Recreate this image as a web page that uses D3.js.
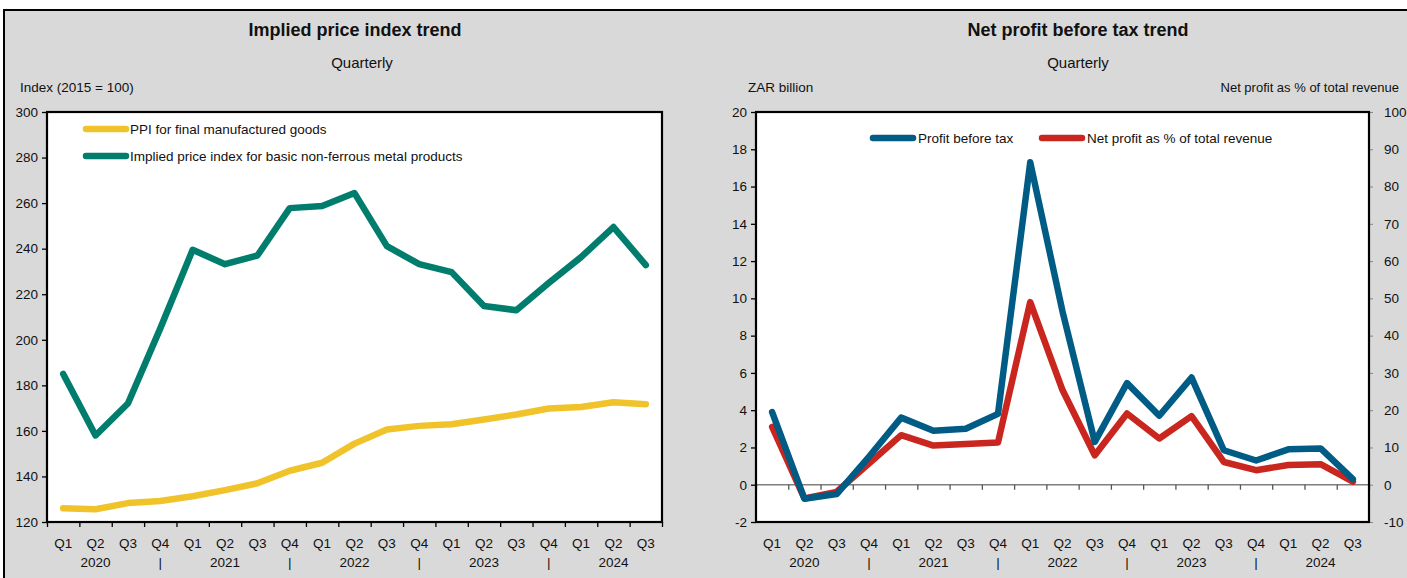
<!DOCTYPE html>
<html>
<head>
<meta charset="utf-8">
<script src="https://cdn.jsdelivr.net/npm/d3@7"></script>
<style>
  body { margin: 0; background: #fff; }
  svg text { font-family: "Liberation Sans Narrow", "Arial Narrow", "Liberation Sans", sans-serif; fill: #111; }
</style>
</head>
<body>
<svg id="chart" width="1407" height="578"></svg>
<script>
// Category labels (two lines: quarter, then year / separator)
const quarters = ["Q1","Q2","Q3","Q4","Q1","Q2","Q3","Q4","Q1","Q2","Q3","Q4","Q1","Q2","Q3","Q4","Q1","Q2","Q3"];
const yearRow  = ["","2020","","|","","2021","","|","","2022","","|","","2023","","|","","2024",""];

// Left chart series (Index, 2015 = 100)
const ppiFinal = [126,125.6,128.3,129.2,131.3,134,137,142.5,146,154.4,160.6,162.2,162.9,165,167.2,169.8,170.5,172.6,171.7];
const impliedIndex = [185,158,172,205,239.5,233.2,237,257.8,258.7,264.4,241.1,233.2,229.7,214.8,213,224.9,236.3,249.5,232.8];
const leftTicks = [120,140,160,180,200,220,240,260,280,300];

// Right chart series
const profitBeforeTax = [3.9,-0.75,-0.5,1.5,3.6,2.9,3.0,3.8,17.3,9.3,2.3,5.45,3.7,5.75,1.85,1.3,1.9,1.95,0.3];
const netProfitPct = [15.5,-3.7,-1.9,5.7,13.3,10.5,10.9,11.3,49,25.4,7.9,19.1,12.4,18.4,6.1,3.9,5.3,5.5,0.8];
const rightTicksL = [-2,0,2,4,6,8,10,12,14,16,18,20];
const rightTicksR = [-10,0,10,20,30,40,50,60,70,80,90,100];

const FS = "13.5px";
const svg = d3.select("#chart");

// grey panel
svg.append("rect")
    .attr("x", 4).attr("y", 10)
    .attr("width", 1410).attr("height", 580)
    .attr("fill", "#d9d9d9")
    .attr("stroke", "#000").attr("stroke-width", 2);

// shared x layout helper
function drawXAxis(g, x0, x1, yLine, yText, lineColor) {
    let n = quarters.length;
    let band = d3.scaleBand().domain(d3.range(n)).range([x0, x1]);
    let edge = d3.scaleLinear().domain([0, n]).range([x0, x1]);

    let ax = g.append("g")
        .attr("transform", "translate(0," + yLine + ")")
        .call(d3.axisBottom(edge).tickValues(d3.range(n + 1)).tickSize(5).tickFormat(""));
    ax.select(".domain").remove();
    ax.selectAll(".tick line").attr("stroke", lineColor).attr("stroke-width", 1.3);

    let lab = g.append("g");
    lab.selectAll("text.q")
        .data(quarters)
        .enter().append("text")
        .attr("x", (d, i) => band(i) + band.bandwidth() / 2)
        .attr("y", yText)
        .attr("text-anchor", "middle")
        .style("font-size", FS)
        .text(d => d);
    lab.selectAll("text.yr")
        .data(yearRow)
        .enter().append("text")
        .attr("x", (d, i) => band(i) + band.bandwidth() / 2)
        .attr("y", yText + 19)
        .attr("text-anchor", "middle")
        .style("font-size", FS)
        .text(d => d);
    return band;
}

function addLine(g, band, yScale, values, color) {
    let line = d3.line()
        .x((d, i) => band(i) + band.bandwidth() / 2)
        .y(d => yScale(d));
    g.append("path")
        .datum(values)
        .attr("d", line)
        .attr("fill", "none")
        .attr("stroke", color)
        .attr("stroke-width", 6.5)
        .attr("stroke-linejoin", "round")
        .attr("stroke-linecap", "round");
}

function titles(cx, qx, title) {
    svg.append("text").attr("x", cx).attr("y", 36)
        .attr("text-anchor", "middle")
        .style("font-size", "18px").style("font-weight", "bold")
        .text(title);
    svg.append("text").attr("x", qx).attr("y", 68)
        .attr("text-anchor", "middle")
        .style("font-size", "15px")
        .text("Quarterly");
}

/* ---------------- Left chart ---------------- */
{
    let L = {x0: 47, x1: 662, y0: 112, y1: 522};
    titles(355, 362, "Implied price index trend");
    svg.append("text").attr("x", 20).attr("y", 92)
        .style("font-size", FS).text("Index (2015 = 100)");

    let g = svg.append("g");
    g.append("rect")
        .attr("x", L.x0).attr("y", L.y0)
        .attr("width", L.x1 - L.x0).attr("height", L.y1 - L.y0)
        .attr("fill", "#fff");

    let y = d3.scaleLinear().domain([120, 300]).range([L.y1, L.y0]);
    let ya = g.append("g")
        .attr("transform", "translate(" + L.x0 + ",0)")
        .call(d3.axisLeft(y).tickValues(leftTicks).tickSize(5).tickPadding(4).tickFormat(d => String(d)));
    ya.select(".domain").remove();
    ya.selectAll(".tick line").attr("stroke", "#000").attr("stroke-width", 1.3);
    ya.selectAll("text").style("font-size", FS).attr("fill", "#111");

    let band = drawXAxis(g, L.x0, L.x1, L.y1, 548, "#000");

    addLine(g, band, y, ppiFinal, "#f0c32a");
    addLine(g, band, y, impliedIndex, "#007d6d");

    g.append("rect")
        .attr("x", L.x0).attr("y", L.y0)
        .attr("width", L.x1 - L.x0).attr("height", L.y1 - L.y0)
        .attr("fill", "none").attr("stroke", "#000").attr("stroke-width", 2.2);

    // legend
    let leg = [["PPI for final manufactured goods", "#f0c32a"],
               ["Implied price index for basic non-ferrous metal products", "#007d6d"]];
    leg.forEach((d, i) => {
        let ly = 129 + i * 27;
        g.append("line").attr("x1", 86).attr("x2", 126).attr("y1", ly).attr("y2", ly)
            .attr("stroke", d[1]).attr("stroke-width", 6.5).attr("stroke-linecap", "round");
        g.append("text").attr("x", 130).attr("y", ly + 5).style("font-size", FS).text(d[0]);
    });
}

/* ---------------- Right chart ---------------- */
{
    let R = {x0: 756, x1: 1369, y0: 112, y1: 522};
    titles(1078, 1078, "Net profit before tax trend");
    svg.append("text").attr("x", 748).attr("y", 92)
        .style("font-size", FS).text("ZAR billion");
    svg.append("text").attr("x", 1399).attr("y", 92)
        .attr("text-anchor", "end")
        .style("font-size", "13px").text("Net profit as % of total revenue");

    let g = svg.append("g");
    g.append("rect")
        .attr("x", R.x0).attr("y", R.y0)
        .attr("width", R.x1 - R.x0).attr("height", R.y1 - R.y0)
        .attr("fill", "#fff");

    let yL = d3.scaleLinear().domain([-2, 20]).range([R.y1, R.y0]);
    let yR = d3.scaleLinear().domain([-10, 100]).range([R.y1, R.y0]);

    let ya = g.append("g")
        .attr("transform", "translate(" + R.x0 + ",0)")
        .call(d3.axisLeft(yL).tickValues(rightTicksL).tickSize(5).tickPadding(4).tickFormat(d => String(d)));
    ya.select(".domain").remove();
    ya.selectAll(".tick line").attr("stroke", "#000").attr("stroke-width", 1.3);
    ya.selectAll("text").style("font-size", FS).attr("fill", "#111");

    let yb = g.append("g")
        .attr("transform", "translate(" + R.x1 + ",0)")
        .call(d3.axisRight(yR).tickValues(rightTicksR).tickSize(4).tickPadding(11).tickFormat(d => String(d)));
    yb.select(".domain").remove();
    yb.selectAll(".tick line").attr("stroke", "#888").attr("stroke-width", 1);
    yb.selectAll("text").style("font-size", FS).attr("fill", "#111");

    // zero line with category ticks
    g.append("line")
        .attr("x1", R.x0).attr("x2", R.x1)
        .attr("y1", yL(0)).attr("y2", yL(0))
        .attr("stroke", "#7f7f7f").attr("stroke-width", 1.5);
    let band = drawXAxis(g, R.x0, R.x1, yL(0), 548, "#555");

    addLine(g, band, yR, netProfitPct, "#c8261f");
    addLine(g, band, yL, profitBeforeTax, "#005b85");

    g.append("rect")
        .attr("x", R.x0).attr("y", R.y0)
        .attr("width", R.x1 - R.x0).attr("height", R.y1 - R.y0)
        .attr("fill", "none").attr("stroke", "#000").attr("stroke-width", 2.2);

    let leg = [["Profit before tax", "#005b85", 873, 918],
               ["Net profit as % of total revenue", "#c8261f", 1042, 1087]];
    leg.forEach(d => {
        g.append("line").attr("x1", d[2]).attr("x2", d[2] + 40).attr("y1", 138).attr("y2", 138)
            .attr("stroke", d[1]).attr("stroke-width", 6.5).attr("stroke-linecap", "round");
        g.append("text").attr("x", d[3]).attr("y", 143).style("font-size", FS).text(d[0]);
    });
}
</script>
</body>
</html>
